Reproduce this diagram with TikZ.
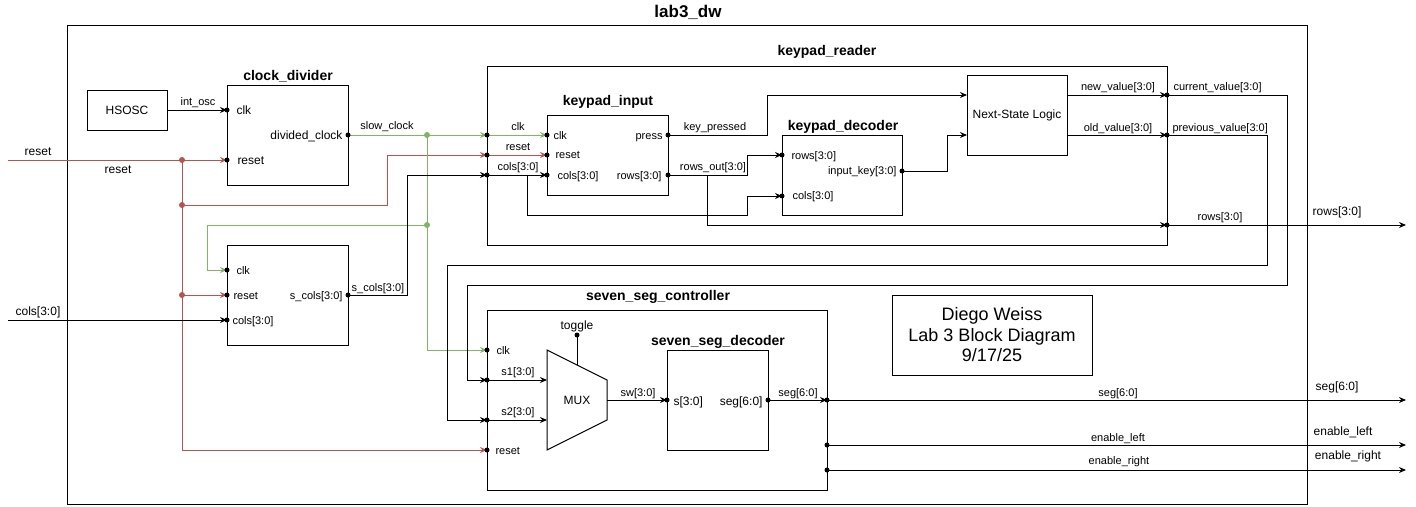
\documentclass[tikz,border=0pt]{standalone}
\usepackage{fontspec}
\setmainfont{Liberation Sans}
\usetikzlibrary{arrows.meta, calc, positioning}

\definecolor{clkgreen}{HTML}{82B366}
\definecolor{rstred}{HTML}{B85450}
\newcommand{\fsz}[1]{\fontsize{#1}{#1}\selectfont}

\tikzset{
  blk/.style={draw, line width=1pt, inner sep=0pt, anchor=north west},
  ttl/.style={font=\bfseries\fsz{14}, inner sep=0pt, text height=9.8pt, text depth=0pt},
  wlbl/.style={font=\fsz{11}, inner sep=0pt, text height=7.7pt, text depth=0pt},
  plbl/.style={font=\fsz{12}, inner sep=0pt, text height=8.4pt, text depth=0pt},
  clkw/.style={draw=clkgreen},
  rstw/.style={draw=rstred},
}

\begin{document}
\begin{tikzpicture}[x=1pt, y=-1pt, line width=1pt, >={Stealth[length=7pt, width=6pt]}]

    \useasboundingbox (0,0) rectangle (1416,506);

    % 1. 顶层模块框和各子模块框
    \node[blk, minimum width=1240pt, minimum height=479pt] (top) at (67,25) {};
    \node[ttl, font=\bfseries\fsz{17}] (toptl) at (688,13) {lab3\_dw};

    \node[blk, minimum width=80pt, minimum height=40pt, anchor=center, font=\fsz{12}] (osc) at (127,110) {HSOSC};
    \node[blk, minimum width=121pt, minimum height=100pt] (cd) at (227,85) {};
    \node[ttl] (cdtl) at (288,76) {clock\_divider};
    \node[blk, minimum width=121pt, minimum height=100pt] (sy) at (227,245) {};

    \node[blk, minimum width=680pt, minimum height=179pt] (kr) at (487,66) {};
    \node[ttl] (krtl) at (827,51) {keypad\_reader};
    \node[blk, minimum width=121pt, minimum height=80pt] (ki) at (547,115) {};
    \node[ttl] (kitl) at (608,101) {keypad\_input};
    \node[blk, minimum width=120pt, minimum height=80pt] (kd) at (782,135) {};
    \node[ttl] (kdtl) at (843,126) {keypad\_decoder};
    \node[blk, minimum width=100pt, minimum height=80pt, anchor=center, font=\fsz{12}] (nsl) at (1017,115) {Next-State Logic};

    \node[blk, minimum width=340pt, minimum height=180pt] (ssc) at (487,310) {};
    \node[ttl] (ssctl) at (658,296) {seven\_seg\_controller};
    \node[blk, minimum width=101pt, minimum height=100pt] (ssd) at (667,350) {};
    \node[ttl] (ssdtl) at (718,341) {seven\_seg\_decoder};
    \draw (547,350) -- (607,380) -- (607,420) -- (547,450) -- cycle;
    \node[font=\fsz{12}] (mux) at (577,400) {MUX};

    \node[blk, minimum width=200pt, minimum height=80pt, anchor=center, align=center,
          font=\fontsize{18}{20.5}\selectfont] (info) at (992,335) {Diego Weiss\\Lab 3 Block Diagram\\9/17/25};

    % 2. 端口坐标
    \coordinate (rst-in) at (8,160);
    \coordinate (cols-in) at (8,320);
    \coordinate (cd-clk) at (227,110);
    \coordinate (cd-rst) at (227,160);
    \coordinate (cd-div) at (348,135);
    \coordinate (sy-clk) at (227,270);
    \coordinate (sy-rst) at (227,295);
    \coordinate (sy-cols) at (227,320);
    \coordinate (sy-scol) at (348,295);
    \coordinate (kr-clk) at (487,135);
    \coordinate (kr-rst) at (487,155);
    \coordinate (kr-cols) at (487,175);
    \coordinate (kr-cur) at (1167,95);
    \coordinate (kr-prev) at (1167,135);
    \coordinate (kr-rows) at (1167,225);
    \coordinate (ki-clk) at (547,135);
    \coordinate (ki-rst) at (547,155);
    \coordinate (ki-cols) at (547,175);
    \coordinate (ki-prs) at (668,135);
    \coordinate (ki-rows) at (668,175);
    \coordinate (kd-rows) at (782,155);
    \coordinate (kd-cols) at (782,196);
    \coordinate (kd-key) at (902,171);
    \coordinate (nsl-a) at (967,95);
    \coordinate (nsl-b) at (967,135);
    \coordinate (nsl-n) at (1067,95);
    \coordinate (nsl-o) at (1067,135);
    \coordinate (ssc-clk) at (487,350);
    \coordinate (ssc-s1) at (487,380);
    \coordinate (ssc-s2) at (487,420);
    \coordinate (ssc-rst) at (487,450);
    \coordinate (ssc-seg) at (827,400);
    \coordinate (ssc-enl) at (827,445);
    \coordinate (ssc-enr) at (827,470);
    \coordinate (mux-a) at (547,380);
    \coordinate (mux-b) at (547,420);
    \coordinate (mux-o) at (607,400);
    \coordinate (mux-t) at (577,365);
    \coordinate (tgl) at (577,335);
    \coordinate (ssd-s) at (667,400);
    \coordinate (ssd-seg) at (768,400);
    \coordinate (rows-out) at (1406,225);
    \coordinate (seg-out) at (1406,400);
    \coordinate (enl-out) at (1406,445);
    \coordinate (enr-out) at (1406,470);
    % 分支点
    \coordinate (jr1) at (182,160);
    \coordinate (jr2) at (182,205);
    \coordinate (jr3) at (182,295);
    \coordinate (jg1) at (427,135);
    \coordinate (jg2) at (427,225);
    \coordinate (jc) at (527,175);
    \coordinate (jrw) at (707,175);

    % 3. 复位线 (红色)
    \draw[rstw, ->] (rst-in) -- (cd-rst);
    \draw[rstw, ->] (jr1) |- (ssc-rst);
    \draw[rstw, ->] (jr2) -- ++(205,0) |- (kr-rst);
    \draw[rstw, ->] (jr3) -- (sy-rst);
    \draw[rstw, ->] (kr-rst) -- (ki-rst);

    % 4. 时钟线 (绿色)
    \draw[clkw, ->] (cd-div) -- (kr-clk);
    \draw[clkw, ->] (kr-clk) -- (ki-clk);
    \draw[clkw, ->] (jg1) |- (ssc-clk);
    \draw[clkw, ->] (jg2) -- ++(-220,0) |- (sy-clk);

    % 5. 数据线
    \draw[->] (osc.east) -- (cd-clk);
    \draw[->] (cols-in) -- (sy-cols);
    \draw[->] (sy-scol) -- ++(59,0) |- (kr-cols);
    \draw[->] (kr-cols) -- (ki-cols);
    \draw[->] (jc) -- ++(0,40) -| ($(kd-cols)+(-35,0)$) -- (kd-cols);
    \draw[->] (ki-rows) -| ($(kd-rows)+(-35,0)$) -- (kd-rows);
    \draw[->] (jrw) |- (kr-rows);
    \draw[->] (kr-rows) -- (rows-out);
    \draw[->] (ki-prs) -- ++(99,0) |- (nsl-a);
    \draw[->] (kd-key) -- ++(45,0) |- (nsl-b);
    \draw[->] (nsl-n) -- (kr-cur);
    \draw[->] (nsl-o) -- (kr-prev);
    \draw[->] (kr-cur) -| ++(120,190) -| ($(ssc-s1)+(-20,0)$) -- (ssc-s1);
    \draw[->] (kr-prev) -| ++(100,130) -| ($(ssc-s2)+(-40,0)$) -- (ssc-s2);
    \draw[->] (ssc-s1) -- (mux-a);
    \draw[->] (ssc-s2) -- (mux-b);
    \draw (mux-t) -- (tgl);
    \draw[->] (mux-o) -- (ssd-s);
    \draw[->] (ssd-seg) -- (ssc-seg);
    \draw[->] (ssc-seg) -- (seg-out);
    \draw[->] (ssc-enl) -- (enl-out);
    \draw[->] (ssc-enr) -- (enr-out);

    % 6. 端口圆点
    \foreach \p in {cd-clk, cd-rst, cd-div, sy-clk, sy-rst, sy-cols, sy-scol,
                    kr-clk, kr-rst, kr-cols, kr-cur, kr-prev, kr-rows,
                    ki-clk, ki-rst, ki-cols, ki-prs, ki-rows, kd-rows, kd-cols, kd-key,
                    ssc-clk, ssc-s1, ssc-s2, ssc-rst, ssc-seg, ssc-enl, ssc-enr,
                    ssd-s, ssd-seg, tgl}
        \fill (\p) circle (2.5pt);
    \foreach \p in {jr1, jr2, jr3} \fill[rstred] (\p) circle (3pt);
    \foreach \p in {jg1, jg2} \fill[clkgreen] (\p) circle (3pt);

    % 7. 端口名
    \node[plbl, anchor=west] at (236,110) {clk};
    \node[plbl, anchor=west] at (237,160) {reset};
    \node[plbl, anchor=east] at (343,135) {divided\_clock};
    \node[wlbl, anchor=west] at (236,271) {clk};
    \node[wlbl, anchor=west] at (233,296) {reset};
    \node[wlbl, anchor=west] at (232,321) {cols[3:0]};
    \node[wlbl, anchor=east] at (343,296) {s\_cols[3:0]};
    \node[wlbl, anchor=west] at (553,136) {clk};
    \node[wlbl, anchor=west] at (555,155) {reset};
    \node[wlbl, anchor=west] at (557,176) {cols[3:0]};
    \node[wlbl, anchor=east] at (663,136) {press};
    \node[wlbl, anchor=east] at (662,176) {rows[3:0]};
    \node[wlbl, anchor=west] at (791,156) {rows[3:0]};
    \node[wlbl, anchor=west] at (792,196) {cols[3:0]};
    \node[wlbl, anchor=east] at (897,171) {input\_key[3:0]};
    \node[wlbl, anchor=west] at (496,351) {clk};
    \node[wlbl, anchor=west] at (495,451) {reset};
    \node[plbl, anchor=west] at (673,401) {s[3:0]};
    \node[plbl, anchor=east] at (763,401) {seg[6:0]};

    % 8. 连线名
    \node[plbl] at (38,151) {reset};
    \node[plbl] at (118,169) {reset};
    \node[plbl] at (38,311) {cols[3:0]};
    \node[wlbl] at (198,102) {int\_osc};
    \node[wlbl] at (387,126) {slow\_clock};
    \node[wlbl] at (378,288) {s\_cols[3:0]};
    \node[wlbl] at (518,127) {clk};
    \node[wlbl] at (518,147) {reset};
    \node[wlbl] at (518,167) {cols[3:0]};
    \node[wlbl] at (715,127) {key\_pressed};
    \node[wlbl] at (713,167) {rows\_out[3:0]};
    \node[wlbl] at (1118,87) {new\_value[3:0]};
    \node[wlbl] at (1118,128) {old\_value[3:0]};
    \node[wlbl, anchor=west] at (1173,87) {current\_value[3:0]};
    \node[wlbl, anchor=west] at (1172,128) {previous\_value[3:0]};
    \node[wlbl] at (1220,217) {rows[3:0]};
    \node[plbl] at (1337,211) {rows[3:0]};
    \node[plbl] at (577,325) {toggle};
    \node[wlbl] at (518,372) {s1[3:0]};
    \node[wlbl] at (518,412) {s2[3:0]};
    \node[wlbl] at (638,393) {sw[3:0]};
    \node[wlbl] at (798,393) {seg[6:0]};
    \node[wlbl] at (1118,393) {seg[6:0]};
    \node[wlbl] at (1118,438) {enable\_left};
    \node[wlbl] at (1119,461) {enable\_right};
    \node[plbl] at (1337,386) {seg[6:0]};
    \node[plbl] at (1343,431) {enable\_left};
    \node[plbl] at (1348,455) {enable\_right};

\end{tikzpicture}
\end{document}
